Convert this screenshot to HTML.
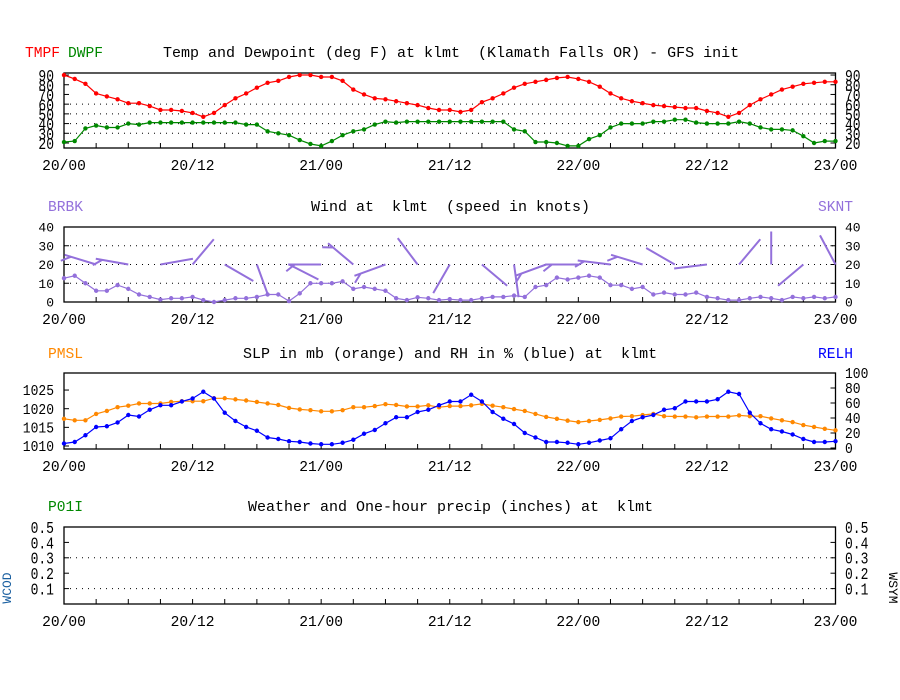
<!DOCTYPE html>
<html><head><meta charset="utf-8"><style>
body{margin:0;background:#fff}
svg{display:block;font-family:"Liberation Mono","DejaVu Sans Mono",monospace}
text{white-space:pre}
</style></head><body>
<svg id="c" width="900" height="700" viewBox="0 0 900 700">
<rect width="900" height="700" fill="#fff"/>
<g id="g"></g>
</svg>
<script>
const timeLabels=["20/00","20/12","21/00","21/12","22/00","22/12","23/00"];
const tmpf=[90,86,81,71,68,65,61,61,58,54,54,53,51,47,51,59,66,71,77,82,84,88,90,90,88,88,84,75,70,66,65,63,61,59,56,54,54,52,54,62,66,71,77,81,83,85,87,88,86,83,78,71,66,63,61,59,58,57,56,56,53,51,47,51,59,65,70,75,78,81,82,83,83];
const dwpf=[21,22,35,38,36,36,40,39,41,41,41,41,41,41,41,41,41,39,39,32,30,28,23,19,17,22,28,32,34,39,42,41,42,42,42,42,42,42,42,42,42,42,34,32,21,21,20,17,17,24,28,36,40,40,40,42,42,44,44,41,40,40,40,42,40,36,34,34,33,27,20,22,22];
const sknt=[12.7,14,10,6,6,9,7,4,2.7,1.3,2,2,2.7,1,0,1,2,2,2.7,4,4,0.5,4.6,10,10,10,11,7,8,7,6,2,1,2.5,2,1,1.5,1,1,2,2.7,2.7,3.4,2.7,8,9,13,12,13,14,13,9,9,7,8,4,5,4,4,5,2.7,2,1,1,2,2.7,2,1,2.7,2,2.7,2,2.7];
const barbIdx=[3,6,9,12,15,18,21,24,27,30,33,36,39,42,45,48,51,54,57,60,63,66,69,72];
const barbDir=[287,280,80,40,120,160,117,270,310,250,323,210,130,172,250,270,277,287,300,263,40,0,230,332];
const pmsl=[1017.3,1016.9,1016.9,1018.6,1019.4,1020.4,1020.8,1021.4,1021.4,1021.4,1021.8,1022,1022,1022,1022.8,1022.8,1022.5,1022.2,1021.8,1021.4,1021,1020.2,1019.8,1019.6,1019.3,1019.3,1019.6,1020.4,1020.4,1020.7,1021.2,1021,1020.6,1020.6,1020.9,1020.4,1020.7,1020.7,1020.9,1021.3,1020.8,1020.4,1019.9,1019.4,1018.6,1017.8,1017.3,1016.8,1016.4,1016.7,1017,1017.4,1017.9,1018,1018.3,1018.6,1018,1017.9,1017.9,1017.7,1017.9,1017.9,1017.9,1018.2,1018,1018,1017.4,1016.9,1016.4,1015.6,1015.1,1014.6,1014.2];
const relh=[6,8,17,28,29,34,44,42,51,57,57,62,66,75,66,47,36,28,23,14,12,9,8,6,5,5,7,11,19,24,33,41,41,48,51,57,62,62,71,62,48,39,32,20,14,8,8,7,5,7,10,13,25,36,41,44,51,53,62,62,62,65,75,72,47,33,25,22,18,12,8,8,9];
const p01i=[];
const tTicks=[20,30,40,50,60,70,80,90], wTicks=[0,10,20,30,40], pTicks=[1010,1015,1020,1025], rTicks=[0,20,40,60,80,100], qTicks=[0.1,0.2,0.3,0.4,0.5];

const NS="http://www.w3.org/2000/svg", G=document.getElementById('g');
function el(t,a,p){const e=document.createElementNS(NS,t);for(const k in a)e.setAttribute(k,a[k]);(p||G).appendChild(e);return e;}
const X0=64,X1=835.5;
const xs=i=>X0+i*(X1-X0)/72;

function panel(name,top,bot){
 const g=el('g',{});
 
 
 const r=el('rect',{x:X0,y:top,width:X1-X0,height:bot-top,fill:'none',stroke:'#000','stroke-width':1.3},g);
 
 
 for(let i=3;i<72;i+=3){const t=el('line',{x1:xs(i),x2:xs(i),y1:bot,y2:bot-5,stroke:'#000'},g);
  
  }
 timeLabels.forEach((s,k)=>{const t=el('text',{x:xs(k*12),y:bot+22,'font-size':14.6,'text-anchor':'middle',fill:'#000'},g);t.textContent=s;
  
  });
 return g;
}
function yLabels(g,ticks,fy,side,fmt,sy){
 ticks.forEach(v=>{const y=fy(v);
  const tx=side==='l'?54:845;
  const t=el('text',{x:tx,y:0,'font-size':13,'text-anchor':side==='l'?'end':'start',fill:'#000',transform:`translate(0,${y}) scale(1,${sy})`,dy:'0.36em'},g);
  t.textContent=fmt?fmt(v):v;
  
  
  const x=side==='l'?X0:X1, d=side==='l'?5:-5;
  const tk=el('line',{x1:x,x2:x+d,y1:y,y2:y,stroke:'#000'},g);
  
  
 });
}
function grid(g,vals,fy){vals.forEach(v=>{const l=el('line',{x1:X0,x2:X1,y1:fy(v),y2:fy(v),stroke:'#000','stroke-dasharray':'1 5'},g);
 
 });}
function series(g,data,fy,col,name){
 const pts=data.map((v,i)=>xs(i).toFixed(1)+','+fy(v).toFixed(1)).join(' ');
 const pl=el('polyline',{points:pts,fill:'none',stroke:col,'stroke-width':1.2},g);
 
 
 data.forEach((v,i)=>{const m=el('circle',{cx:xs(i),cy:fy(v),r:2.2,fill:col},g);
  
  });
}
function txt(s,x,y,col,name,anchor,extra){const t=el('text',Object.assign({x:x,y:y,'font-size':14.6,fill:col,'text-anchor':anchor||'start'},extra||{}));t.textContent=s;
 
 return t;}
const TS={'font-size':15};

// Panel 1
const fT=v=>143-(v-20)*0.971;
let g1=panel('temp',73,148);
grid(g1,[30,40,50,60],fT);
yLabels(g1,tTicks,fT,'l',null,1.3);yLabels(g1,tTicks,fT,'r',null,1.3);
series(g1,tmpf,fT,'#ff0000','tmpf');series(g1,dwpf,fT,'#008800','dwpf');
txt('TMPF',25,57,'#ff0000','tmpf-legend');txt('DWPF',68,57,'#008800','dwpf-legend');
txt('Temp and Dewpoint (deg F) at klmt  (Klamath Falls OR) - GFS init',163,57,'#000','temp-title',null,TS);

// Panel 2
const fW=v=>302-v*1.875;
let g2=panel('wind',227,302);
grid(g2,[10,20,30],fW);
yLabels(g2,wTicks,fW,'l',null,1);yLabels(g2,wTicks,fW,'r',null,1);
series(g2,sknt,fW,'#9370db','sknt');
barbIdx.forEach((ix,k)=>{const a=barbDir[k]*Math.PI/180,L=33;
 const bx=xs(ix),by=fW(20),ex=bx+L*Math.sin(a),ey=by-L*Math.cos(a);
 const s=el('line',{x1:bx,y1:by,x2:ex,y2:ey,stroke:'#9370db','stroke-width':2},g2);
 
 
 if(sknt[ix]>=5){const fx=ex+7*Math.sin(a-1.3),fy=ey-7*Math.cos(a-1.3);
  const f=el('line',{x1:ex-0.2*(ex-bx),y1:ey-0.2*(ey-by),x2:fx,y2:fy,stroke:'#9370db','stroke-width':2},g2);
  
  }
});
txt('BRBK',48,211,'#9370db','brbk-legend');txt('SKNT',818,211,'#9370db','sknt-legend');
txt('Wind at  klmt  (speed in knots)',311,211,'#000','wind-title',null,TS);

// Panel 3
const fP=v=>446-(v-1010)*3.73, fR=v=>448-v*0.75;
let g3=panel('slp',373,449);
yLabels(g3,pTicks,fP,'l',null,1.1);yLabels(g3,rTicks,fR,'r',null,1.1);
series(g3,pmsl,fP,'#ff8800','pmsl');series(g3,relh,fR,'#0000ff','relh');
txt('PMSL',48,358,'#ff8800','pmsl-legend');txt('RELH',818,358,'#0000ff','relh-legend');
txt('SLP in mb (orange) and RH in % (blue) at  klmt',243,358,'#000','slp-title',null,TS);

// Panel 4
const fQ=v=>604-v*154;
let g4=panel('precip',527,604);
grid(g4,[0.1,0.3],fQ);
yLabels(g4,qTicks,fQ,'l',v=>v.toFixed(1),1.25);yLabels(g4,qTicks,fQ,'r',v=>v.toFixed(1),1.25);
series(g4,p01i,fQ,'#008800','p01i');
txt('P01I',48,511,'#008800','p01i-legend');
txt('Weather and One-hour precip (inches) at  klmt',248,511,'#000','precip-title',null,TS);
txt('WCOD',0,0,'#1a5fa0','wcod-label','middle',{transform:'translate(11,588) rotate(-90)','font-size':13});
txt('WSYM',0,0,'#000','wsym-label','middle',{transform:'translate(889,588) rotate(90)','font-size':13});
</script>
</body></html>
